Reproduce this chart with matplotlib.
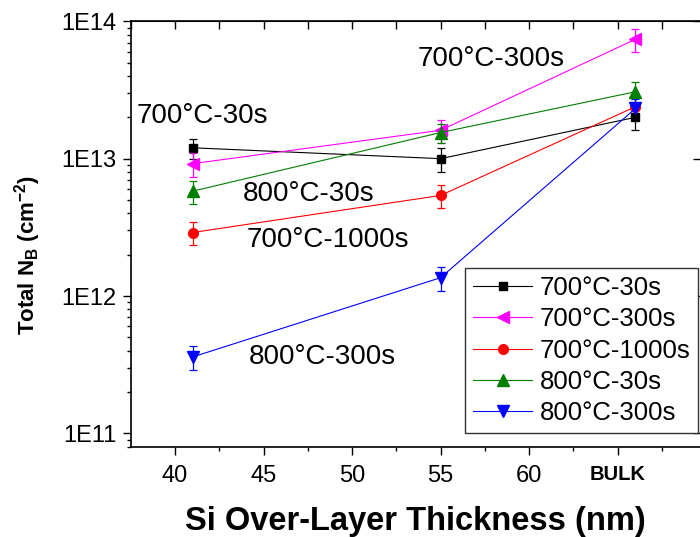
import math
import matplotlib
matplotlib.use("Agg")
import matplotlib.pyplot as plt
from matplotlib.ticker import FixedLocator, FuncFormatter, LogLocator, NullFormatter, MultipleLocator

plt.rcParams['font.family'] = ['Liberation Sans', 'DejaVu Sans']
plt.rcParams['mathtext.fontset'] = 'custom'
plt.rcParams['mathtext.rm'] = 'Liberation Sans'
plt.rcParams['mathtext.bf'] = 'Liberation Sans:bold'

# thickness (nm); last point is the bulk sample
x_pos = [41, 55, 66]
x_ticks = [40, 45, 50, 55, 60, 65]
x_ticklabels = ['40', '45', '50', '55', '60', 'BULK']

series_names = ['700°C-30s', '700°C-300s', '700°C-1000s', '800°C-30s', '800°C-300s']
n_700_30 = [1.2e13, 1.0e13, 2.0e13]
err_700_30 = [0.2e13, 0.2e13, 0.38e13]
n_700_300 = [9.2e12, 1.61e13, 7.4e13]
err_700_300 = [1.8e12, 0.3e13, 1.45e13]
n_700_1000 = [2.9e12, 5.4e12, 2.39e13]
err_700_1000 = [0.55e12, 1.05e12, 0.4e13]
n_800_30 = [5.8e12, 1.55e13, 3.07e13]
err_800_30 = [1.1e12, 0.25e13, 0.57e13]
n_800_300 = [3.6e11, 1.36e12, 2.32e13]
err_800_300 = [0.7e11, 0.27e12, 0.4e13]

fig = plt.figure(figsize=(7, 5.37), dpi=100)
ax = fig.add_axes([0.1867, 0.1682, 0.8147, 0.7921])

styles = [
    (n_700_30, err_700_30, 'black', 's', 6),
    (n_700_300, err_700_300, '#ff00ff', '<', 8),
    (n_700_1000, err_700_1000, 'red', 'o', 7),
    (n_800_30, err_800_30, 'green', '^', 8),
    (n_800_300, err_800_300, 'blue', 'v', 8),
]
handles = []
for (vals, errs, col, mk, ms), name in zip(styles, series_names):
    c = ax.errorbar(x_pos, vals, yerr=errs, color=col, marker=mk, ms=ms, lw=0.8,
                    elinewidth=0.9, capsize=3, capthick=0.9, label=name)
    handles.append(c[0])

ax.set_yscale('log')
ax.set_ylim(8e10, 1e14)
ax.set_xlim(37.5, 69.7)

ax.xaxis.set_major_locator(FixedLocator(x_ticks))
ax.set_xticklabels(x_ticklabels)
ax.xaxis.set_minor_locator(FixedLocator([42.5, 47.5, 52.5, 57.5, 62.5, 67.5]))
ax.tick_params(axis='x', which='major', direction='out', length=6, width=1, labelsize=17, pad=7)
ax.tick_params(axis='x', which='minor', direction='out', length=3, width=1)
for lab in ax.get_xticklabels():
    if lab.get_text() == 'BULK':
        lab.set_fontweight('bold')
        lab.set_fontsize(14.5)

ax.yaxis.set_major_locator(LogLocator(base=10, numticks=10))
ax.yaxis.set_minor_locator(LogLocator(base=10, subs=range(2, 10), numticks=20))
ax.yaxis.set_minor_formatter(NullFormatter())
ax.yaxis.set_major_formatter(FuncFormatter(lambda v, p: '1E%d' % round(math.log10(v))))
ax.tick_params(axis='y', which='major', direction='out', length=6, width=1, labelsize=17, pad=4)
ax.tick_params(axis='y', which='minor', direction='out', length=3, width=1)

top = ax.secondary_xaxis('top')
top.xaxis.set_major_locator(MultipleLocator(2.5))
top.tick_params(direction='in', length=6, width=1, labeltop=False)
right = ax.secondary_yaxis('right')
right.yaxis.set_major_locator(LogLocator(base=10, numticks=10))
right.yaxis.set_minor_locator(FixedLocator([]))
right.tick_params(direction='in', length=6, width=1, labelright=False)

for sp in ax.spines.values():
    sp.set_linewidth(1.2)

# inline labels
ax.text(37.86, 2.04e13, '700°C-30s', fontsize=20, va='center', ha='left')
ax.text(53.71, 5.28e13, '700°C-300s', fontsize=20, va='center', ha='left')
ax.text(43.82, 5.52e12, '800°C-30s', fontsize=20, va='center', ha='left')
ax.text(44.05, 2.55e12, '700°C-1000s', fontsize=20, va='center', ha='left')
ax.text(44.19, 3.6e11, '800°C-300s', fontsize=20, va='center', ha='left')

leg = ax.legend(handles=handles, labels=series_names, loc='lower right',
                bbox_to_anchor=(0.9955, 0.033), fontsize=18.5, frameon=True, fancybox=False,
                framealpha=1, edgecolor='#333333', handlelength=2.3, handletextpad=0.3,
                labelspacing=0.28, borderpad=0.3, borderaxespad=0, numpoints=1)
leg.get_frame().set_linewidth(1.0)

ax.set_xlabel('Si Over-Layer Thickness (nm)', fontsize=23.5, fontweight='bold', labelpad=14)
fig.text(0.039, 1 - 255 / 537, r'Total N$_\mathbf{B}$ (cm$^\mathbf{-2}$)', rotation=90,
         fontsize=16, fontweight='bold', ha='center', va='center')

fig.savefig('out.png', dpi=100)
